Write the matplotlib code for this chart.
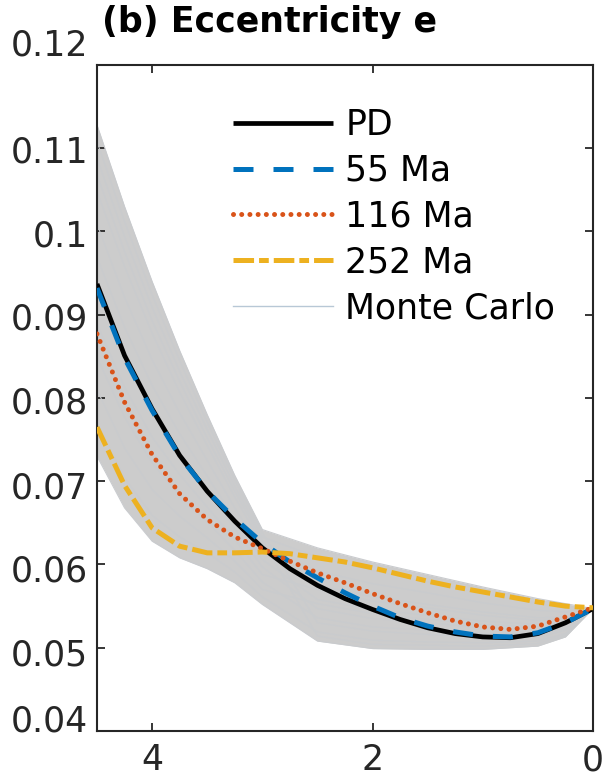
import numpy as np
import matplotlib
matplotlib.use("Agg")
import matplotlib.pyplot as plt
from matplotlib.lines import Line2D
from matplotlib.transforms import ScaledTranslation, blended_transform_factory

plt.rcParams["font.family"] = ["DejaVu Sans"]
plt.rcParams["lines.scale_dashes"] = False

# Time before present (Gyr) for the reference solutions
t = [4.5, 4.25, 4.0, 3.75, 3.5, 3.25, 3.0, 2.75, 2.5, 2.25,
     2.0, 1.75, 1.5, 1.25, 1.0, 0.75, 0.5, 0.25, 0.0]

ecc_pd = [0.0937, 0.0851, 0.0787, 0.0731, 0.0688, 0.0652, 0.0620, 0.0595, 0.0575, 0.0559,
          0.0546, 0.0534, 0.0524, 0.0517, 0.0513, 0.0512, 0.0517, 0.0530, 0.0547]
ecc_55 = [0.0932, 0.0848, 0.0785, 0.0730, 0.0688, 0.0655, 0.0626, 0.0603, 0.0584, 0.0566,
          0.0550, 0.0536, 0.0526, 0.0519, 0.0514, 0.0513, 0.0518, 0.0530, 0.0547]
ecc_116 = [0.0877, 0.0795, 0.0732, 0.0685, 0.0654, 0.0633, 0.0619, 0.0604, 0.0590, 0.0578,
           0.0565, 0.0553, 0.0542, 0.0532, 0.0525, 0.0522, 0.0526, 0.0537, 0.0548]
ecc_252 = [0.0765, 0.0695, 0.0644, 0.0622, 0.0614, 0.0614, 0.0615, 0.0613, 0.0608, 0.0603,
           0.0596, 0.0588, 0.0580, 0.0573, 0.0567, 0.0561, 0.0555, 0.0550, 0.0548]

# Monte Carlo ensemble, sampled on a coarser time grid
t_mc = [4.5, 4.25, 4.0, 3.75, 3.5, 3.25, 3.0, 2.5, 2.0, 1.5, 1.0, 0.5, 0.25, 0.0]
mc_runs = [
    [0.1128, 0.1030, 0.0940, 0.0857, 0.0780, 0.0707, 0.0642, 0.0620, 0.0603, 0.0588, 0.0573, 0.0559, 0.0553, 0.0547],
    [0.1108, 0.1012, 0.0924, 0.0845, 0.0771, 0.0701, 0.0638, 0.0530, 0.0520, 0.0516, 0.0513, 0.0513, 0.0521, 0.0547],
    [0.1088, 0.0994, 0.0909, 0.0832, 0.0762, 0.0694, 0.0633, 0.0609, 0.0593, 0.0579, 0.0566, 0.0553, 0.0549, 0.0547],
    [0.1068, 0.0976, 0.0893, 0.0820, 0.0752, 0.0688, 0.0629, 0.0514, 0.0504, 0.0503, 0.0502, 0.0505, 0.0515, 0.0547],
    [0.1048, 0.0958, 0.0878, 0.0807, 0.0743, 0.0681, 0.0624, 0.0592, 0.0577, 0.0566, 0.0554, 0.0545, 0.0543, 0.0547],
    [0.1009, 0.0921, 0.0846, 0.0782, 0.0725, 0.0668, 0.0615, 0.0575, 0.0561, 0.0552, 0.0543, 0.0536, 0.0537, 0.0547],
    [0.0969, 0.0885, 0.0815, 0.0757, 0.0706, 0.0655, 0.0606, 0.0558, 0.0546, 0.0539, 0.0532, 0.0528, 0.0531, 0.0547],
    [0.0929, 0.0849, 0.0784, 0.0733, 0.0688, 0.0643, 0.0597, 0.0547, 0.0535, 0.0530, 0.0524, 0.0522, 0.0527, 0.0547],
    [0.0889, 0.0813, 0.0753, 0.0708, 0.0669, 0.0630, 0.0588, 0.0570, 0.0556, 0.0548, 0.0539, 0.0533, 0.0535, 0.0547],
    [0.0849, 0.0777, 0.0722, 0.0683, 0.0651, 0.0617, 0.0579, 0.0536, 0.0525, 0.0521, 0.0517, 0.0516, 0.0523, 0.0547],
    [0.0810, 0.0740, 0.0690, 0.0658, 0.0632, 0.0604, 0.0570, 0.0553, 0.0541, 0.0534, 0.0528, 0.0525, 0.0529, 0.0547],
    [0.0770, 0.0704, 0.0659, 0.0633, 0.0614, 0.0591, 0.0561, 0.0519, 0.0509, 0.0507, 0.0506, 0.0508, 0.0517, 0.0547],
    [0.0730, 0.0668, 0.0628, 0.0608, 0.0595, 0.0578, 0.0552, 0.0508, 0.0499, 0.0498, 0.0498, 0.0502, 0.0513, 0.0547],
]

x_ticks = [4, 2, 0]
y_ticks = [0.04, 0.05, 0.06, 0.07, 0.08, 0.09, 0.1, 0.11, 0.12]
y_tick_labels = ["0.04", "0.05", "0.06", "0.07", "0.08", "0.09", "0.1", "0.11", "0.12"]

W, H = 609, 779
fig = plt.figure(figsize=(W / 100, H / 100), dpi=100)
ax = fig.add_axes([97 / W, 1 - 731 / H, (593 - 97) / W, (731 - 65) / H])

mc = np.array(mc_runs)
mc_color = "#c9cbce"
ax.fill_between(t_mc, mc.min(axis=0), mc.max(axis=0), color="#cccccc", lw=0, zorder=1)
for run in mc_runs:
    ax.plot(t_mc, run, color=mc_color, lw=0.8, zorder=2)

ax.plot(t, ecc_pd, color="black", lw=3.4, solid_capstyle="butt", zorder=3)
ax.plot(t, ecc_55, color="#0072bd", lw=3.6, linestyle=(0, (14.4, 14.4)),
        dash_capstyle="butt", zorder=4)
ax.plot(t, ecc_116, color="#d95319", lw=3.6, linestyle=(0, (0.01, 5.9)),
        dash_capstyle="round", zorder=5)
ax.plot(t, ecc_252, color="#edb120", lw=3.6, linestyle=(0, (14.8, 3.6, 7.0, 3.6)),
        dash_capstyle="butt", zorder=6)

ax.set_xlim(4.5, 0)
ax.set_ylim(0.04, 0.12)
ax.set_xticks(x_ticks)
ax.set_xticklabels([str(v) for v in x_ticks])
ax.set_yticks(y_ticks)
ax.set_yticklabels([])

axis_color = "#262626"
for s in ax.spines.values():
    s.set_color(axis_color)
    s.set_linewidth(1.5)
ax.tick_params(direction="in", length=6, width=1.3, colors=axis_color,
               labelsize=25, top=True, right=True)
ax.tick_params(axis="x", pad=9)

# y tick labels: end labels pulled inward, the rest sitting slightly below their ticks
label_shift_px = [9, -8, -7, -7, -6, -5, -5, -4, 19]
ylab_tf = blended_transform_factory(ax.transAxes, ax.transData)
for val, txt, dy in zip(y_ticks, y_tick_labels, label_shift_px):
    ax.text(-0.018, val, txt, fontsize=25, color=axis_color, ha="right", va="center",
            transform=ylab_tf + ScaledTranslation(0, dy / 100, fig.dpi_scale_trans),
            clip_on=False)

handles = [
    Line2D([], [], color="black", lw=3.4, solid_capstyle="butt"),
    Line2D([], [], color="#0072bd", lw=3.6, linestyle=(0, (14.4, 14.4)), dash_capstyle="butt"),
    Line2D([], [], color="#d95319", lw=3.6, linestyle=(0, (0.01, 5.9)), dash_capstyle="round"),
    Line2D([], [], color="#edb120", lw=3.6, linestyle=(0, (14.8, 3.6, 7.0, 3.6)), dash_capstyle="butt"),
    Line2D([], [], color="#b8c8d6", lw=1.0),
]
labels = ["PD", "55 Ma", "116 Ma", "252 Ma", "Monte Carlo"]
ax.legend(handles, labels, loc="upper left", bbox_to_anchor=(233 / W, 1 - 108 / H),
          bbox_transform=fig.transFigure, frameon=False, fontsize=25,
          handlelength=2.88, handletextpad=0.35, labelspacing=0.34,
          borderpad=0, borderaxespad=0)

fig.text(270 / W, 1 - 22 / H, "(b) Eccentricity e", fontsize=25, fontweight="bold",
         ha="center", va="center", color="black")

fig.savefig("out.png", dpi=100)
